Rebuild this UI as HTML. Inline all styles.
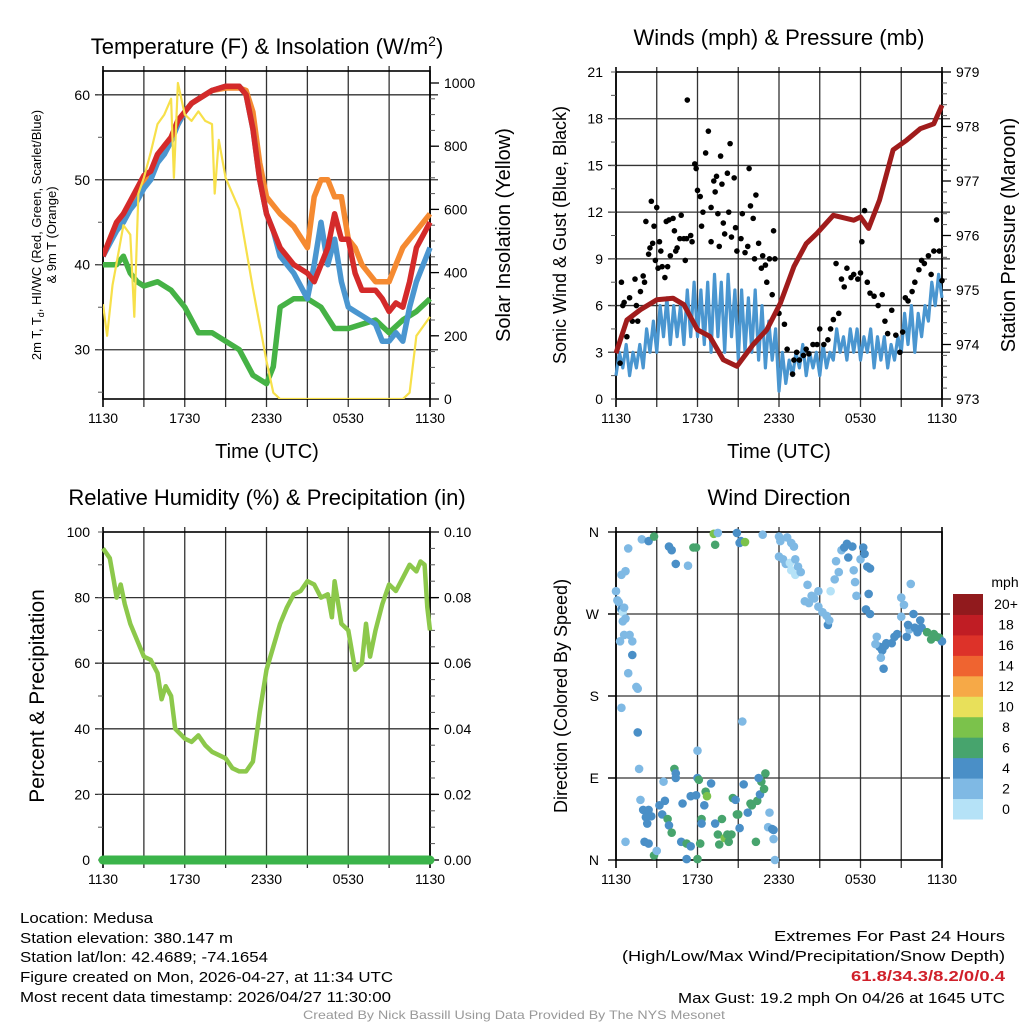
<!DOCTYPE html>
<html><head><meta charset="utf-8"><style>
html,body{margin:0;padding:0;background:#fff;}
svg{display:block;font-family:"Liberation Sans",sans-serif;}
</style></head><body>
<svg id="fig" width="1024" height="1024" viewBox="0 0 1024 1024" xmlns="http://www.w3.org/2000/svg">
<rect width="1024" height="1024" fill="#fff"/>
<text x="267" y="54" font-size="22" text-anchor="middle">Temperature (F) &amp; Insolation (W/m<tspan font-size="14" dy="-8">2</tspan><tspan dy="8">)</tspan></text>
<text x="779" y="45" font-size="22" text-anchor="middle">Winds (mph) &amp; Pressure (mb)</text>
<text x="267" y="505" font-size="22" text-anchor="middle">Relative Humidity (%) &amp; Precipitation (in)</text>
<text x="779" y="505" font-size="22" text-anchor="middle">Wind Direction</text>
<text x="267" y="458" font-size="20" text-anchor="middle">Time (UTC)</text>
<text x="779" y="458" font-size="20" text-anchor="middle">Time (UTC)</text>
<text transform="translate(41,235) rotate(-90)" font-size="13" text-anchor="middle">2m T, T<tspan font-size="9" dy="3">d</tspan><tspan dy="-3">, HI/WC (Red, Green, Scarlet/Blue)</tspan></text>
<text transform="translate(56,235) rotate(-90)" font-size="13" text-anchor="middle">&amp; 9m T (Orange)</text>
<text transform="translate(510,235) rotate(-90)" font-size="20" text-anchor="middle">Solar Insolation (Yellow)</text>
<text transform="translate(566,235) rotate(-90)" font-size="18" text-anchor="middle">Sonic Wind &amp; Gust (Blue, Black)</text>
<text transform="translate(1015,235) rotate(-90)" font-size="20" text-anchor="middle">Station Pressure (Maroon)</text>
<text transform="translate(44,696) rotate(-90)" font-size="21" text-anchor="middle">Percent &amp; Precipitation</text>
<text transform="translate(567,696) rotate(-90)" font-size="18" text-anchor="middle">Direction (Colored By Speed)</text>
<text x="1005" y="587" font-size="14" text-anchor="middle">mph</text>
<g font-size="15">
<text x="20" y="923" textLength="133" lengthAdjust="spacingAndGlyphs">Location: Medusa</text>
<text x="20" y="943" textLength="213" lengthAdjust="spacingAndGlyphs">Station elevation: 380.147 m</text>
<text x="20" y="962" textLength="248" lengthAdjust="spacingAndGlyphs">Station lat/lon: 42.4689; -74.1654</text>
<text x="20" y="982" textLength="373" lengthAdjust="spacingAndGlyphs">Figure created on Mon, 2026-04-27, at 11:34 UTC</text>
<text x="20" y="1002" textLength="371" lengthAdjust="spacingAndGlyphs">Most recent data timestamp: 2026/04/27 11:30:00</text>
</g>
<g font-size="15">
<text x="774" y="941" textLength="231" lengthAdjust="spacingAndGlyphs">Extremes For Past 24 Hours</text>
<text x="622" y="961" textLength="383" lengthAdjust="spacingAndGlyphs">(High/Low/Max Wind/Precipitation/Snow Depth)</text>
<text x="851" y="981" textLength="154" lengthAdjust="spacingAndGlyphs" fill="#d0202a" font-weight="bold">61.8/34.3/8.2/0/0.4</text>
<text x="678" y="1003" textLength="327" lengthAdjust="spacingAndGlyphs">Max Gust: 19.2 mph On 04/26 at 1645 UTC</text>
</g>
<text x="303" y="1019" font-size="12" fill="#999" textLength="422" lengthAdjust="spacingAndGlyphs">Created By Nick Bassill Using Data Provided By The NYS Mesonet</text>
</svg>
<script>
// ---------- data ----------
const timeLabels = ["1130","1730","2330","0530","1130"];
const tT = [0,0.5,1,1.5,2,2.5,3,3.5,4,4.5,5,5.5,6,6.5,7,8,9,10,10.5,11,11.5,12,12.5,13,14,15,15.5,16,16.5,17,17.5,18,18.5,19,20,20.5,21,21.5,22,22.5,23,24];
const tempRed = [41,43,45,46,47.5,49,50.5,51,53,54,55,57,58,59,59.5,60.5,61,61,60,56,50,46,44,42,40,39,38,40,42,46,43,43,39,37,37,36,34.5,35.5,35,38,42,45];
const tempOrange = [41,43,45,46,47,48.5,50,51,52.5,54,55,56.5,58,59,59.5,60.5,60.8,60.8,60.5,58,52,48,47,46,44.5,42,48,50,50,48,48,43,42,40,38,38,38,40,42,43,44,46];
const tempBlue = [41,42.5,44,45,46.5,47.5,49,50,52,53,54.5,56.5,58,59,59.5,60.5,61,61,60,56,50,46,44,41,39,36,40,45,40,43,38,35,34.5,34,33,31,31,32,31,35,38,42];
const tDew = [0,1,1.5,2,2.5,3,4,5,6,7,8,9,10,11,12,12.5,13,14,15,16,17,18,19,20,21,22,23,24];
const dewGreen = [40,40,41,39,38,37.5,38,37,35,32,32,31,30,27,26,28,35,36,36,35,32.5,32.5,33,33.5,32,33.5,34.5,36];
const tSolar = [0,0.3,0.7,1,1.5,2,2.3,2.6,3,3.5,4,4.5,5,5.2,5.5,6,6.5,7,7.5,8,8.2,8.5,9,10,11,12,12.5,13,22,22.5,23,24];
const solar = [300,200,360,430,550,520,260,650,700,780,870,900,950,700,1000,900,880,910,880,870,650,820,700,600,350,120,20,0,0,20,200,260];
const tPres = [0,0.8,1.8,3,4.2,5,6,6.9,7.9,8.9,10.1,11.1,12.1,13.1,14,14.8,16,17.5,18,18.6,19.4,20.4,21.4,22.4,23.4,24];
const pressure = [973.84,974.45,974.64,974.82,974.85,974.73,974.27,974.15,973.72,973.6,974.0,974.27,974.76,975.43,975.85,976.04,976.37,976.28,976.34,976.13,976.65,977.57,977.75,977.96,978.05,978.39];
const windSpeed = [1.5,3,2,3.5,1.5,3,2,3.5, 2,4.5,3,5, 3,6,4,6.5,3.5,6,4,6, 3.5,7,4,7.5,4,7,3.5,7.5, 3,8,4,7.5,3,8,4,7, 2.5,7,3,6.5,3,7,2.5,6, 2,5,2.5,4.5, 0.5,3,1,2.5, 1.5,3,2,3.5,1.5,3,2,3,1.5,3.5,2,3, 2.5,4.5,3,4,2.5,4.5,3,4.5,2.5,4,3,4.5, 2,4,2.5,4,2,3.5,2.5,4, 3,5.5,3.5,6,3,5.5,4,6, 5,7.5,6,8,6.5];
const gustT = [0.3,0.4,0.5,0.6,0.8,1,1.2,1.4,1.5,1.6,1.8,2,2.1,2.2,2.4,2.5,2.6,2.7,2.8,2.9,3,3.1,3.2,3.3,3.4,3.6,3.7,3.8,3.9,4,4.2,4.3,4.4,4.5,4.7,4.8,5,5.1,5.2,5.25,5.5,5.6,5.8,5.9,6,6.2,6.3,6.4,6.6,6.8,7,7,7.2,7.3,7.4,7.5,7.6,7.7,7.8,7.9,8,8.2,8.3,8.4,8.5,8.7,8.8,8.9,9.2,9.3,9.5,9.7,9.8,9.9,10.1,10.2,10.3,10.5,10.7,10.8,11,11.1,11.3,11.5,11.6,11.7,12,12.4,12.6,13,13.1,13.3,13.5,13.8,14,14.2,14.5,14.8,15,15.3,15.6,15.8,16,16.2,16.4,16.6,16.8,17,17.3,17.5,17.8,18,18.1,18.3,18.5,18.7,19,19.3,19.6,19.8,20,20.3,20.6,20.9,21.1,21.3,21.5,21.8,22,22.3,22.5,22.7,23,23.2,23.4,23.6,23.8,24];
const gustV = [2.3,7.5,6,6.2,4,6.5,5,7.7,6,5,6.9,7.9,7.5,11.4,9.3,9.7,12.7,10,11.1,8.9,12.3,8.4,10.1,9.5,8.5,7.8,11.4,8.5,11.5,9.2,11.6,10.8,9.5,9.7,10.3,11.8,10.3,8.9,10.3,19.2,10.5,10.1,15.1,14.8,13.4,13,11.1,12,15.8,17.2,10.1,12.3,14,13.3,14.3,11.9,9.8,15.6,13.8,11.3,10.6,14.5,12,16.4,10.4,14.2,11,9.5,10.3,11.9,9.4,9.8,14.8,12.4,11.6,9,13.1,10,8.4,9.2,8.6,7.5,9,6.7,10.8,9,5.5,4.8,3.2,1.6,2.5,3,2.5,2.8,3.2,2.9,3.5,3.5,4.5,3.5,3.8,4.5,5.1,8.7,5.5,7.7,7.2,8.4,7.8,8,7.7,8.1,10.1,12.1,7.5,6.8,6.6,6,6.7,5,4.2,5.7,4.1,3,4.3,6.5,6.3,6.9,7.5,8.3,8.9,8.7,9.2,8,9.5,11.5,9.5,7.6];
const tRH = [0,0.5,0.8,1,1.3,1.6,2,2.5,3,3.5,4,4.3,4.6,5,5.3,6,6.5,7,7.5,8,9,9.5,10,10.5,11,11.5,12,12.5,13,13.5,14,14.5,15,15.5,16,16.5,16.8,17,17.5,18,18.5,19,19.3,19.6,20,20.5,21,21.5,22,22.5,23,23.3,23.6,23.8,24];
const rh = [95,92,85,80,84,78,72,67,62,61,57,49,53,50,40,37,36,38,35,33,31,28,27,27,30,45,58,65,72,77,81,82,85,84,80,81,74,85,72,70,58,60,72,62,70,78,84,82,86,90,88,91,90,77,70];
const precipT = [0,24];
const precip = [0,0];
const dirT = [0,0.1,0.2,0.3,0.4,0.4,0.5,0.5,0.6,0.6,0.7,0.9,0.9,1.0,1.2,1.2,1.5,1.6,1.6,1.7,0.4,0.7,1.9,2.4,2.8,0.7,1.8,2.0,2.2,2.3,2.4,2.6,2.1,2.4,2.8,3.0,3.2,3.4,3.6,3.5,3.8,3.9,4.1,4.3,4.4,4.4,4.8,4.9,5.2,5.5,5.5,5.9,6.0,6.1,6.0,5.2,6.0,6.2,6.3,6.3,6.5,6.6,6.7,7.0,7.3,7.5,7.6,7.8,8.0,8.3,8.2,8.5,8.6,8.8,8.9,9.1,9.4,9.3,9.0,9.7,9.9,10.3,10.0,10.4,10.6,10.7,10.5,10.9,11.0,11.3,11.2,11.6,11.5,11.6,11.7,3.9,4.1,4.4,5.3,5.7,5.9,7.2,7.3,7.5,8.9,9.2,9.1,9.5,10.8,12,12.1,12.6,12.9,13.1,12.0,12.3,12.5,12.8,12.9,13.2,13.2,13.4,13.6,14.1,13.9,14.4,14.6,14.9,14.2,14.9,15.2,15.5,15.6,15.7,15.8,16.1,16.4,16.2,16.6,16.8,17.0,17.4,17.1,17.5,17.6,17.7,18.0,18.2,18.3,18.5,18.6,18.4,18.7,18.7,19.2,19.6,19.4,19.8,19.9,20.3,20.5,21.0,21.4,21.6,21.9,22.0,22.2,22.4,22.5,22.9,23.2,23.4,23.8,24,21.7,21.2,21.0,19.1,19.7,19.5,20.7,21.5,23.6];
const dirDeg = [295,285,283,240,167,275,262,272,277,247,265,342,205,247,225,240,190,188,140,100,313,317,352,350,355,20,66,55,47,40,55,48,20,18,5,10,60,50,65,86,45,38,30,100,95,90,20,62,18,15,70,71,90,88,120,1,1,18,45,40,60,75,70,84,40,28,17,45,24,20,28,28,68,66,50,35,83,152,50,52,62,20,60,65,72,86,90,78,95,52,36,33,34,23,0,344,340,325,323,343,343,358,346,359,359,350,348,349,357,355,350,354,348,344,333,330,325,326,318,330,313,322,316,302,284,290,287,295,282,278,272,268,258,263,295,308,316,328,340,343,347,344,332,318,305,290,330,343,336,322,292,275,320,270,245,230,234,235,238,238,245,267,245,253,270,255,250,263,255,250,242,248,244,240,303,280,288,237,210,222,248,258,245];
const dirSpd = [2,2,2,2,2,4,2,1,2,3,2,2,2,2,4,3,2,2,4,2,2,2,2,4,6,2,2,4,4,4,4,4,4,4,6,2,4,4,4,2,6,4,6,6,4,4,4,4,6,4,4,4,4,6,2,4,6,6,6,4,4,6,8,4,4,6,6,6,8,6,6,6,6,4,6,4,4,2,6,4,6,6,6,6,4,6,4,6,6,2,2,4,4,2,2,4,4,4,2,6,6,8,6,2,4,4,4,8,2,2,2,2,2,2,2,2,2,1,1,2,1,2,2,2,2,2,2,2,2,2,2,2,4,2,1,2,2,2,2,4,4,4,4,2,2,2,2,4,4,4,4,4,4,4,2,4,4,4,4,4,4,2,4,2,4,4,4,4,4,6,6,6,6,4,2,2,2,2,4,2,4,4,6];
const cbLabels = ["0","2","4","6","8","10","12","14","16","18","20+"];
const cbColors = ["#b5e2f7","#7fb9e4","#4a8fc7","#47a46d","#7bc24b","#e8e05a","#f6a947","#ef6430","#dd3229","#c01d24","#911a1d"];

// ---------- helpers ----------
const NS="http://www.w3.org/2000/svg";
const svg=document.getElementById('fig');
function mk(tag,attrs,parent){const e=document.createElementNS(NS,tag);for(const k in attrs)e.setAttribute(k,attrs[k]);(parent||svg).appendChild(e);return e;}
function lin(d0,d1,r0,r1){return v=>r0+(v-d0)/(d1-d0)*(r1-r0);}
function pathD(xs,ys,fx,fy){return xs.map((t,i)=>(i?'L':'M')+fx(t).toFixed(1)+','+fy(ys[i]).toFixed(1)).join('');}

function frame(P,name,leftTicks,leftFmt,leftMinor,rightTicks,rightFmt,rightMinor,fyL,fyR,gridYs){
  const g=mk('g',{});
  
  
  const fx=lin(0,24,P.x0,P.x1);
  for(let h=3;h<24;h+=3){
    const l=mk('line',{x1:fx(h),x2:fx(h),y1:P.y0-5,y2:P.y1+8,stroke:'#333','stroke-width':1.3},g);
    
    
  }
  gridYs.forEach(y=>{
    const l=mk('line',{x1:P.x0-8,x2:P.x1+8,y1:y,y2:y,stroke:'#333','stroke-width':1.3},g);
    
    
  });
  const r=mk('rect',{x:P.x0,y:P.y0,width:P.x1-P.x0,height:P.y1-P.y0,fill:'none',stroke:'#000','stroke-width':1.6},g);
  
  
  [0,24].forEach(h=>{
    const l=mk('line',{x1:fx(h),x2:fx(h),y1:P.y0-5,y2:P.y1+8,stroke:'#000','stroke-width':1.6},g);
    
    
  });
  timeLabels.forEach((s,i)=>{
    const t=mk('text',{x:fx(i*6),y:P.y1+24,'font-size':14,'text-anchor':'middle'},g);
    t.textContent=s;
    
    
  });
  if(leftTicks){
    leftMinor.forEach(v=>{const l=mk('line',{x1:P.x0-5,x2:P.x0,y1:fyL(v),y2:fyL(v),stroke:'#555','stroke-width':1},g);
      
      });
    leftTicks.forEach(v=>{
      const t=mk('text',{x:P.x0-13,y:fyL(v)+5,'font-size':14,'text-anchor':'end'},g);
      t.textContent=leftFmt(v);
      
      
    });
  }
  if(rightTicks){
    rightMinor.forEach(v=>{const l=mk('line',{x1:P.x1,x2:P.x1+5,y1:fyR(v),y2:fyR(v),stroke:'#555','stroke-width':1},g);
      
      });
    rightTicks.forEach(v=>{
      const l=mk('line',{x1:P.x1,x2:P.x1+9,y1:fyR(v),y2:fyR(v),stroke:'#000','stroke-width':1.3},g);
      
      
      const t=mk('text',{x:P.x1+14,y:fyR(v)+5,'font-size':14,'text-anchor':'start'},g);
      t.textContent=rightFmt(v);
      
      
    });
  }
  return fx;
}
function range(a,b,s){const r=[];for(let v=a;v<=b+1e-9;v+=s)r.push(+v.toFixed(4));return r;}

// ---------- panel 1 ----------
const P1={x0:103,x1:430,y0:71,y1:399};
const fy1=lin(24.2,62.8,P1.y1,P1.y0), fy1r=lin(0,1000,399,83);
const fx1=frame(P1,'temperature',[30,40,50,60],v=>v,range(25,60,5),[0,200,400,600,800,1000],v=>v,range(0,1000,50),fy1,fy1r,[30,40,50,60].map(fy1));
const clip1=mk('clipPath',{id:'c1'});mk('rect',{x:P1.x0,y:P1.y0-2,width:P1.x1-P1.x0+4,height:P1.y1-P1.y0+2},clip1);
[[tDew,dewGreen,'#45b245',5.5,'dewpoint-line'],[tT,tempOrange,'#f58a31',5.5,'temp-9m-line'],[tT,tempBlue,'#4a96d0',5.5,'heat-index-line'],[tT,tempRed,'#d42a2a',5.5,'temp-2m-line'],[tSolar,solar,'#f7e04a',2.2,'solar-line']].forEach(s=>{
  const fy=s[4]==='solar-line'?fy1r:fy1;
  const p=mk('path',{d:pathD(s[0],s[1],fx1,fy),fill:'none',stroke:s[2],'stroke-width':s[3],'stroke-linejoin':'round','clip-path':'url(#c1)'});
  
  
});

// ---------- panel 2 ----------
const P2={x0:616,x1:942,y0:72,y1:399};
const fy2=lin(0,21,P2.y1,P2.y0), fy2r=lin(973,979,P2.y1,P2.y0);
const fx2=frame(P2,'winds',range(0,21,3),v=>v,range(0,21,1.5),range(973,979,1),v=>v,range(973,979,0.2),fy2,fy2r,range(3,18,3).map(fy2));
const tWind=windSpeed.map((v,i)=>i*0.25);
const pw=mk('path',{d:pathD(tWind,windSpeed,fx2,fy2),fill:'none',stroke:'#4a96d0','stroke-width':3.2,'stroke-linejoin':'round'});


gustT.forEach((t,i)=>{
  const c=mk('circle',{cx:fx2(t),cy:fy2(gustV[i]),r:2.8,fill:'#000'});
  
  
});
const pp=mk('path',{d:pathD(tPres,pressure,fx2,fy2r),fill:'none',stroke:'#a01c1c','stroke-width':5,'stroke-linejoin':'round'});



// ---------- panel 3 ----------
const P3={x0:103,x1:430,y0:532,y1:860};
const fy3=lin(0,100,P3.y1,P3.y0), fy3r=lin(0,0.1,P3.y1,P3.y0);
const fx3=frame(P3,'humidity',range(0,100,20),v=>v,range(0,100,10),range(0,0.1,0.02),v=>v.toFixed(2),range(0,0.1,0.005),fy3,fy3r,range(20,80,20).map(fy3));
const prh=mk('path',{d:pathD(tRH,rh,fx3,fy3),fill:'none',stroke:'#8cc84b','stroke-width':4.5,'stroke-linejoin':'round'});


const ppr=mk('path',{d:pathD(precipT,precip,fx3,fy3r),fill:'none',stroke:'#3bb44a','stroke-width':9,'stroke-linecap':'round'});



// ---------- panel 4 ----------
const P4={x0:616,x1:942,y0:532,y1:860};
const fy4=lin(0,360,P4.y1,P4.y0);
const fx4=frame(P4,'direction',null,null,null,null,null,null,fy4,fy4,[90,180,270].map(fy4));
['N','E','S','W','N'].forEach((s,i)=>{
  const y=fy4(i*90);
  const l=mk('line',{x1:P4.x0-8,x2:P4.x0,y1:y,y2:y,stroke:'#000','stroke-width':1.3});
  
  
  const t=mk('text',{x:P4.x0-17,y:y+5,'font-size':14,'text-anchor':'end'});
  t.textContent=s;
  
  
});
dirT.forEach((t,i)=>{
  const idx=Math.min(10,Math.floor(dirSpd[i]/2));
  const c=mk('circle',{cx:fx4(t),cy:fy4(dirDeg[i]),r:4.3,fill:cbColors[idx]});
  
  
});
cbColors.forEach((col,i)=>{
  const h=225/11, y=819-(i+1)*h;
  const r=mk('rect',{x:953,y:y,width:30,height:h+0.5,fill:col});
  
  
  const t=mk('text',{x:1006,y:y+h/2+5,'font-size':14,'text-anchor':'middle'});
  t.textContent=cbLabels[i];
  
  
});
</script>
</body></html>
